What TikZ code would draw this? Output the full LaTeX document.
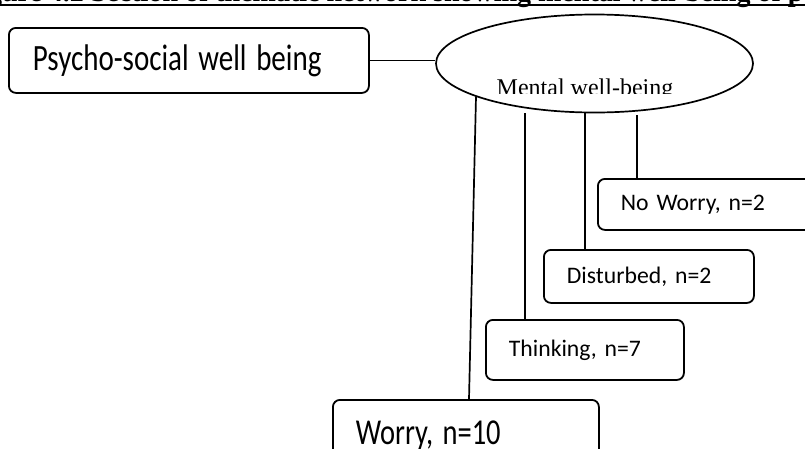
\documentclass[tikz,border=0pt]{standalone}
\usepackage{fontspec}
\setmainfont{Liberation Serif}
\newfontfamily\calibri{Carlito}
\usetikzlibrary{shapes.geometric,calc}
\newcommand{\tallt}[1]{\scalebox{1}[1.28]{#1}}
\tikzset{
  box/.style={draw, rounded corners=7pt, line width=1.8pt, align=left,
    inner xsep=23pt, inner ysep=0pt, anchor=north west,
    font=\calibri\fontsize{23.7}{28}\selectfont},
  bigbox/.style={box, inner xsep=24pt, font=\calibri\fontsize{29}{34}\selectfont},
  link/.style={line width=1.7pt},
}
\begin{document}
\begin{tikzpicture}[x=1pt,y=-1pt]
\clip (0,0) rectangle (805,448);
% title (cut off at top)
\node[anchor=base west, inner sep=0pt, font=\bfseries\fontsize{28}{32}\selectfont] (title) at (-37,1)
  {Figure 4.2 Section of thematic network showing mental well-being of participants};
\draw[line width=1.6pt] ([yshift=-4pt]title.base west) -- ([yshift=-4pt]title.base east);

% boxes
\node[bigbox, minimum width=360pt, minimum height=65pt, text width=312pt] (psy) at (8,27) {\tallt{Psycho-social well being}};
\node[box, minimum width=220pt, minimum height=51pt, text width=174pt] (noworry) at (597,178) {No Worry, n=2};
\node[box, minimum width=210pt, minimum height=53pt, text width=164pt] (disturbed) at (543,249) {Disturbed, n=2};
\node[box, minimum width=198pt, minimum height=60pt, text width=152pt] (thinking) at (485,319) {Thinking, n=7};
\node[bigbox, inner xsep=23pt, minimum width=266pt, minimum height=72pt, text width=220pt, font=\calibri\fontsize{28.5}{34}\selectfont] (worry) at (332,399) {\tallt{Worry, n=10}};

% ellipse
\node[draw, ellipse, line width=1.7pt, minimum width=317pt, minimum height=98pt, inner sep=0pt] (mw) at (594.5,63.5) {};
\begin{scope}
\clip (0,0) rectangle (805,93);
\node[anchor=base, inner sep=0pt, font=\fontsize{24}{28}\selectfont] (mwt) at (585,95) {Mental well-being};
\end{scope}

% connectors
\coordinate (w1) at (476,96.5);
\coordinate (t1) at (525,113);
\coordinate (d1) at (585,113);
\coordinate (n1) at (637,115);
\draw[link] (psy.east) -- (psy.east -| mw.west);
\draw[link] (w1) -- ([xshift=137pt]worry.north west);
\draw[link] (t1) -- (t1 |- thinking.north);
\draw[link] (d1) -- (d1 |- disturbed.north);
\draw[link] (n1) -- (n1 |- noworry.north);
\end{tikzpicture}
\end{document}
